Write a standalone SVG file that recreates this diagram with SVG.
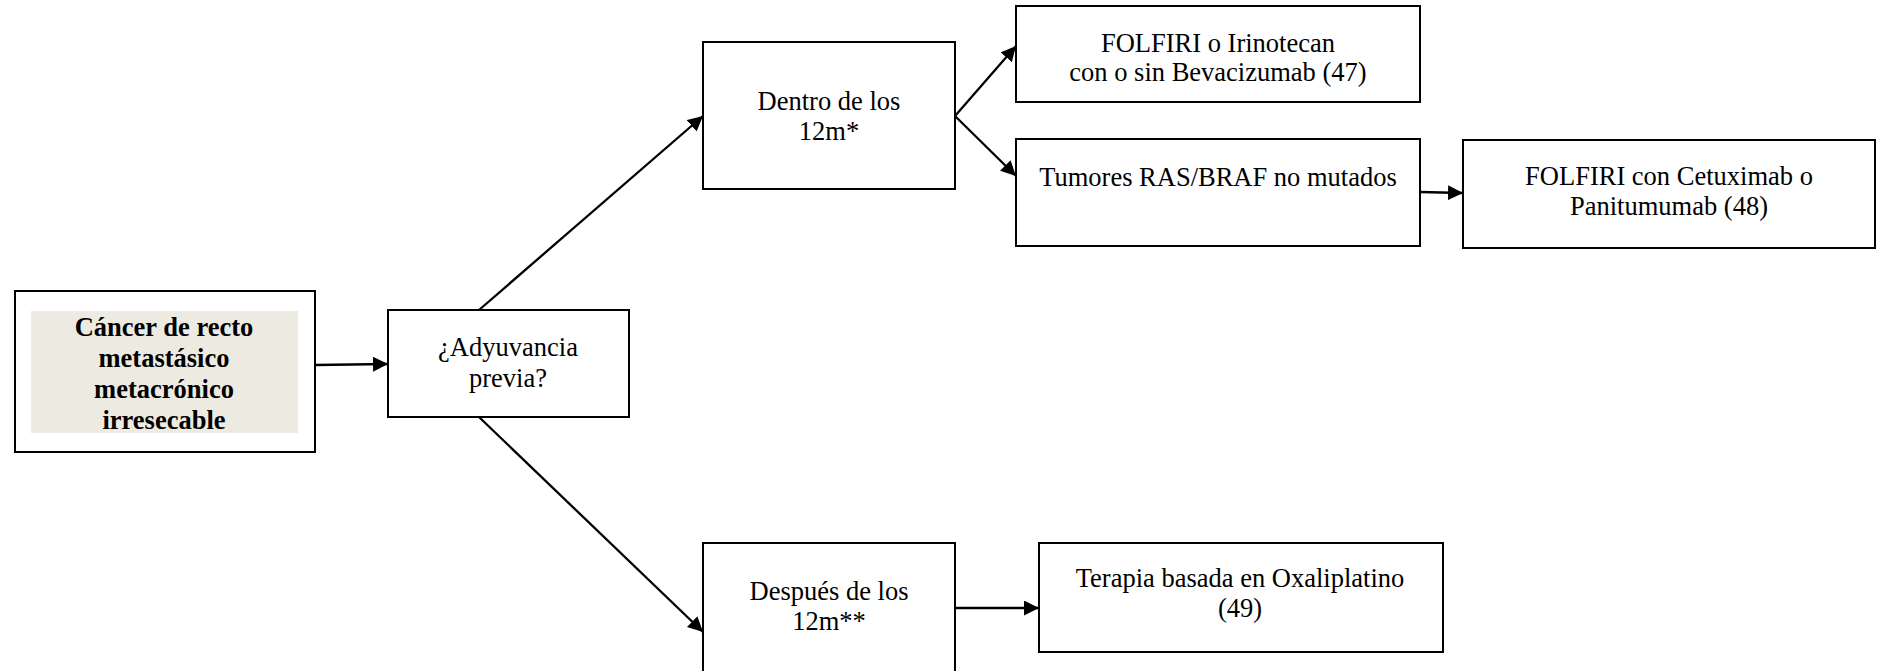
<svg xmlns="http://www.w3.org/2000/svg" width="1879" height="671" viewBox="0 0 1879 671">
<defs>
<style>
.box{fill:#fff;stroke:#000;stroke-width:2}
.t{font-family:'Liberation Serif','DejaVu Serif',serif;font-size:26.5px;fill:#000;text-anchor:middle}
.b{font-weight:bold}
.c{stroke:#000;stroke-width:2.3;fill:none;marker-end:url(#arr)}
</style>
<marker id="arr" viewBox="0 0 15 15" refX="15" refY="7.5" markerWidth="15" markerHeight="15" markerUnits="userSpaceOnUse" orient="auto">
<path d="M0,0 L15,7.5 L0,15 z" fill="#000"/>
</marker>
</defs>
<rect width="1879" height="671" fill="#fff"/>
<g id="n-main">
<rect class="box" x="15" y="291" width="300" height="161"/>
<rect x="31" y="311" width="267" height="122" fill="#EDEBE1"/>
<text class="t b" x="164" y="336">Cáncer de recto</text>
<text class="t b" x="164" y="367">metastásico</text>
<text class="t b" x="164" y="398">metacrónico</text>
<text class="t b" x="164" y="429">irresecable</text>
</g>
<g id="n-adyuvancia">
<rect class="box" x="388" y="310" width="241" height="107"/>
<text class="t" x="508" y="356">¿Adyuvancia</text>
<text class="t" x="508" y="387">previa?</text>
</g>
<g id="n-dentro">
<rect class="box" x="703" y="42" width="252" height="147"/>
<text class="t" x="829" y="110">Dentro de los</text>
<text class="t" x="829" y="140">12m*</text>
</g>
<g id="n-folfiri-irino">
<rect class="box" x="1016" y="6" width="404" height="96"/>
<text class="t" x="1218" y="52">FOLFIRI o Irinotecan</text>
<text class="t" x="1218" y="81">con o sin Bevacizumab (47)</text>
</g>
<g id="n-tumores">
<rect class="box" x="1016" y="139" width="404" height="107"/>
<text class="t" x="1218" y="186">Tumores RAS/BRAF no mutados</text>
</g>
<g id="n-cetux">
<rect class="box" x="1463" y="140" width="412" height="108"/>
<text class="t" x="1669" y="185">FOLFIRI con Cetuximab o</text>
<text class="t" x="1669" y="215">Panitumumab (48)</text>
</g>
<g id="n-despues">
<rect class="box" x="703" y="543" width="252" height="140"/>
<text class="t" x="829" y="600">Después de los</text>
<text class="t" x="829" y="630">12m**</text>
</g>
<g id="n-terapia">
<rect class="box" x="1039" y="543" width="404" height="109"/>
<text class="t" x="1240" y="587">Terapia basada en Oxaliplatino</text>
<text class="t" x="1240" y="617">(49)</text>
</g>
<g id="connectors">
<line class="c" x1="315" y1="365" x2="388" y2="364"/>
<line class="c" x1="479" y1="310" x2="703" y2="116"/>
<line class="c" x1="479" y1="417" x2="703" y2="632"/>
<line class="c" x1="955" y1="116" x2="1016" y2="46"/>
<line class="c" x1="955" y1="116" x2="1016" y2="176"/>
<line class="c" x1="1420" y1="192" x2="1463" y2="193"/>
<line class="c" x1="955" y1="608" x2="1039" y2="608"/>
</g>
</svg>
